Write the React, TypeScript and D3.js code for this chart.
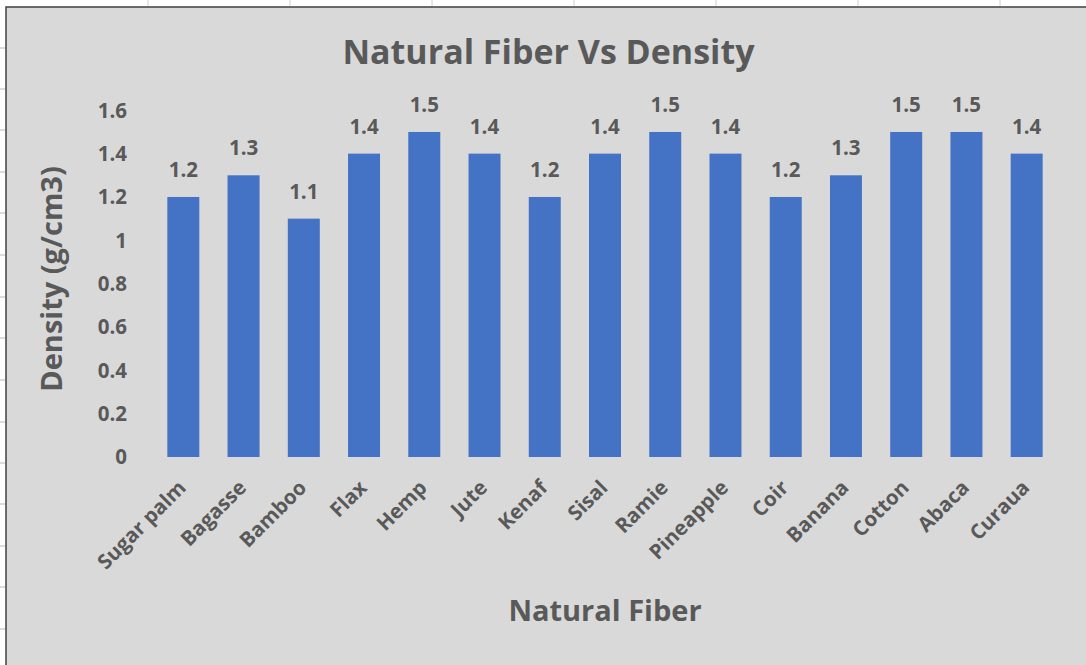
import React from "react";
import * as d3 from "d3";

const categories = ["Sugar palm", "Bagasse", "Bamboo", "Flax", "Hemp", "Jute", "Kenaf", "Sisal", "Ramie", "Pineapple", "Coir", "Banana", "Cotton", "Abaca", "Curaua"];
const densities = [1.2, 1.3, 1.1, 1.4, 1.5, 1.4, 1.2, 1.4, 1.5, 1.4, 1.2, 1.3, 1.5, 1.5, 1.4];
const yTicks = [0, 0.2, 0.4, 0.6, 0.8, 1, 1.2, 1.4, 1.6];
const sheetCols = [148, 290, 432, 574, 716, 858, 1000];
const sheetRows = [48, 89, 130, 172, 213, 255, 297, 338, 380, 422, 463, 504, 546, 587, 629];

const W = 1086;
const H = 665;
const FONT = "'Open Sans', 'DejaVu Sans', sans-serif";
const TXT = "#595959";

export default function App() {
  const x = d3.scaleBand<string>().domain(categories).range([153.2, 1056.8]).paddingInner(0.469).paddingOuter(0.2345);
  const y = d3.scaleLinear().domain([0, 1.6]).range([457, 110.3]);
  const fmt = (v: number) => d3.format("~g")(v);

  return (
    <svg width={W} height={H} style={{ position: "fixed", left: 0, top: 0, background: "#ffffff" }} fontFamily={FONT}>
      <rect x={0} y={0} width={W} height={H} fill="#ffffff" />
      {sheetCols.map((c) => (
        <line key={"c" + c} x1={c} x2={c} y1={0} y2={6} stroke="#d0d0d0" strokeWidth={1} />
      ))}
      {sheetRows.map((r) => (
        <line key={"r" + r} x1={0} x2={5} y1={r} y2={r} stroke="#b8b8b8" strokeWidth={1} />
      ))}
      <rect x={6} y={7} width={W + 10} height={H} fill="#d9d9d9" stroke="#404040" strokeWidth={1.5} />

      <text x={548.5} y={64} textAnchor="middle" fontSize={34} fontWeight={700} fill={TXT}>
        Natural Fiber Vs Density
      </text>

      {yTicks.map((t) => (
        <text key={t} x={127} y={y(t)} dy="0.36em" textAnchor="end" fontSize={20.5} fontWeight={700} fill={TXT}>
          {fmt(t)}
        </text>
      ))}

      {categories.map((c, i) => (
        <g key={c}>
          <rect x={x(c)} y={y(densities[i])} width={x.bandwidth()} height={y(0) - y(densities[i])} fill="#4472c4" />
          <text x={(x(c) as number) + x.bandwidth() / 2} y={y(densities[i]) - 20} textAnchor="middle" fontSize={20.5} fontWeight={700} fill={TXT}>
            {fmt(densities[i])}
          </text>
          <text
            transform={`translate(${(x(c) as number) + x.bandwidth() / 2 + 4},${y(0) + 32}) rotate(-45)`}
            textAnchor="end"
            fontSize={20.5}
            fontWeight={700}
            fill={TXT}
          >
            {c}
          </text>
        </g>
      ))}

      <text x={605} y={621} textAnchor="middle" fontSize={29} fontWeight={700} fill={TXT}>
        Natural Fiber
      </text>
      <text transform={`translate(62,279) rotate(-90)`} textAnchor="middle" fontSize={29} fontWeight={700} fill={TXT}>
        Density (g/cm3)
      </text>
    </svg>
  );
}
